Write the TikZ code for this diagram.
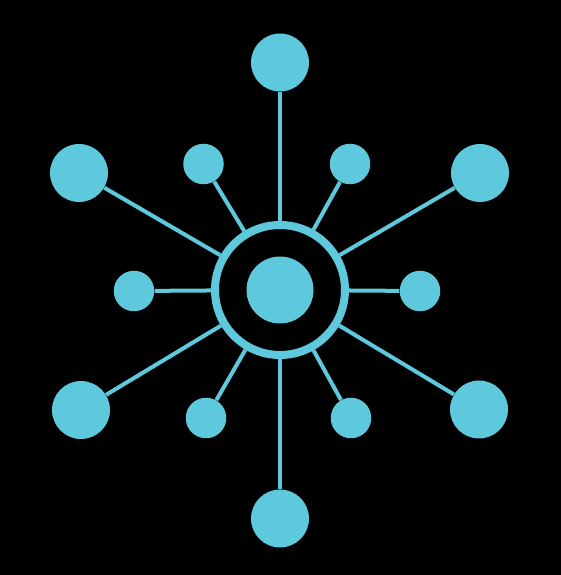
\documentclass[tikz,border=0pt]{standalone}
\usepackage{tikz}
\definecolor{hubcyan}{RGB}{94,200,221}

\begin{document}
\begin{tikzpicture}[
  big/.style={circle, fill=hubcyan, minimum size=1.16cm, inner sep=0},
  small/.style={circle, fill=hubcyan, minimum size=0.81cm, inner sep=0},
  link/.style={draw=hubcyan, line width=0.08cm}]
\useasboundingbox (-5.6, -5.7) rectangle (5.6, 5.8);
\fill[black] (-5.8, -5.9) rectangle (5.8, 6.0);

\node[circle, fill=hubcyan, minimum size=1.34cm, inner sep=0] (hub) at (0, 0) {};
\node[circle, draw=hubcyan, line width=0.16cm, minimum size=2.6cm, inner sep=0] (ring) at (0, 0) {};

\node[big] (top) at (0, 4.55) {};
\node[big] (bot) at (0, -4.57) {};
\node[big] (tl) at (-4.02, 2.34) {};
\node[big] (tr) at (4.0, 2.34) {};
\node[big] (bl) at (-3.98, -2.4) {};
\node[big] (br) at (3.98, -2.39) {};

\node[small] (stl) at (-1.53, 2.52) {};
\node[small] (str) at (1.4, 2.52) {};
\node[small] (sl) at (-2.92, -0.02) {};
\node[small] (sr) at (2.8, -0.02) {};
\node[small] (sbl) at (-1.48, -2.56) {};
\node[small] (sbr) at (1.42, -2.56) {};

\draw[link] (ring) to (top);
\draw[link] (ring) to (bot);
\draw[link] (ring) to (tl);
\draw[link] (ring) to (tr);
\draw[link] (ring) to (bl);
\draw[link] (ring) to (br);
\draw[link] (ring) to (stl);
\draw[link] (ring) to (str);
\draw[link] (ring) to (sl);
\draw[link] (ring) to (sr);
\draw[link] (ring) to (sbl);
\draw[link] (ring) to (sbr);

\end{tikzpicture}
\end{document}
